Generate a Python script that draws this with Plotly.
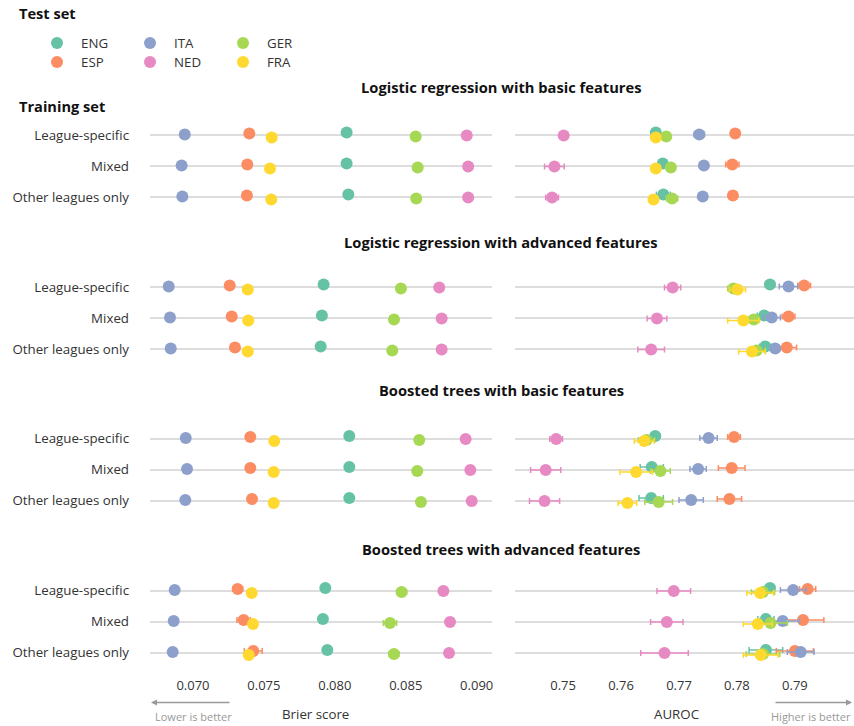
import plotly.graph_objects as go

# ---------------------------------------------------------------- data
COUNTRIES = ["ENG", "ESP", "ITA", "NED", "GER", "FRA"]
COLORS = ["#66c2a5", "#fc8d62", "#8da0cb", "#e78ac3", "#a6d854", "#ffd92f"]
TRAINING = ["League-specific", "Mixed", "Other leagues only"]
MODELS = [
    "Logistic regression with basic features",
    "Logistic regression with advanced features",
    "Boosted trees with basic features",
    "Boosted trees with advanced features",
]

# Brier score, one row per test league (COUNTRIES order), one column per training set
BRIER_LR_BASIC = [
    [0.08083, 0.08083, 0.08095],
    [0.07397, 0.07383, 0.07380],
    [0.06942, 0.06920, 0.06925],
    [0.08930, 0.08940, 0.08940],
    [0.08570, 0.08584, 0.08574],
    [0.07555, 0.07543, 0.07552],
]
BRIER_LR_ADV = [
    [0.07921, 0.07909, 0.07900],
    [0.07259, 0.07273, 0.07296],
    [0.06829, 0.06838, 0.06843],
    [0.08736, 0.08753, 0.08753],
    [0.08466, 0.08417, 0.08405],
    [0.07386, 0.07390, 0.07386],
]
BRIER_BT_BASIC = [
    [0.08102, 0.08102, 0.08102],
    [0.07404, 0.07404, 0.07416],
    [0.06949, 0.06958, 0.06946],
    [0.08922, 0.08955, 0.08965],
    [0.08595, 0.08581, 0.08607],
    [0.07573, 0.07569, 0.07569],
]
BRIER_BT_ADV = [
    [0.07933, 0.07916, 0.07947],
    [0.07315, 0.07357, 0.07425],
    [0.06871, 0.06864, 0.06857],
    [0.08765, 0.08812, 0.08805],
    [0.08471, 0.08389, 0.08417],
    [0.07414, 0.07423, 0.07393],
]

# Brier score 95% CI half-widths
BRIER_ERR_LR_BASIC = [[0.0001] * 3] * 6
BRIER_ERR_LR_ADV = [[0.0001] * 3] * 6
BRIER_ERR_BT_BASIC = [[0.0001] * 3] * 6
BRIER_ERR_BT_ADV = [
    [0.0001, 0.0001, 0.0002],
    [0.00035, 0.00047, 0.00063],
    [0.0001, 0.0001, 0.0001],
    [0.0001, 0.0002, 0.0002],
    [0.00035, 0.00047, 0.00035],
    [0.0001, 0.0001, 0.0001],
]

# AUROC
AUROC_LR_BASIC = [
    [0.7660, 0.7672, 0.7673],
    [0.7797, 0.7792, 0.7793],
    [0.7735, 0.7743, 0.7741],
    [0.7501, 0.7485, 0.7481],
    [0.7678, 0.7686, 0.7688],
    [0.7660, 0.7660, 0.7656],
]
AUROC_LR_ADV = [
    [0.7857, 0.7847, 0.7849],
    [0.7916, 0.7889, 0.7886],
    [0.7889, 0.7860, 0.7866],
    [0.7689, 0.7662, 0.7652],
    [0.7794, 0.7829, 0.7834],
    [0.7801, 0.7811, 0.7826],
]
AUROC_BT_BASIC = [
    [0.7659, 0.7653, 0.7652],
    [0.7795, 0.7791, 0.7787],
    [0.7751, 0.7733, 0.7721],
    [0.7488, 0.7470, 0.7468],
    [0.7644, 0.7668, 0.7665],
    [0.7640, 0.7626, 0.7611],
]
AUROC_BT_ADV = [
    [0.7857, 0.7850, 0.7850],
    [0.7922, 0.7914, 0.7900],
    [0.7897, 0.7879, 0.7910],
    [0.7691, 0.7679, 0.7675],
    [0.7845, 0.7858, 0.7845],
    [0.7840, 0.7836, 0.7841],
]

# AUROC 95% CI half-widths
AUROC_ERR_LR_BASIC = [
    [0.0005, 0.0006, 0.0012],
    [0.0005, 0.00115, 0.0006],
    [0.0009, 0.0005, 0.0006],
    [0.0005, 0.0017, 0.0011],
    [0.0006, 0.0006, 0.0010],
    [0.0005, 0.0005, 0.0005],
]
AUROC_ERR_LR_ADV = [
    [0.0008, 0.0012, 0.0010],
    [0.0011, 0.0011, 0.0017],
    [0.0016, 0.0015, 0.0008],
    [0.0014, 0.0017, 0.0023],
    [0.0010, 0.0010, 0.0015],
    [0.0014, 0.0027, 0.0023],
]
AUROC_ERR_BT_BASIC = [
    [0.0008, 0.0020, 0.0021],
    [0.0011, 0.0023, 0.0021],
    [0.0015, 0.0014, 0.0021],
    [0.0011, 0.0026, 0.0026],
    [0.0014, 0.0017, 0.0024],
    [0.0017, 0.0028, 0.0016],
]
AUROC_ERR_BT_ADV = [
    [0.0008, 0.0014, 0.0029],
    [0.0014, 0.0036, 0.0032],
    [0.0022, 0.0029, 0.0023],
    [0.0029, 0.0028, 0.0041],
    [0.0020, 0.0029, 0.0029],
    [0.0023, 0.0025, 0.0030],
]

BRIER = [BRIER_LR_BASIC, BRIER_LR_ADV, BRIER_BT_BASIC, BRIER_BT_ADV]
BRIER_ERR = [BRIER_ERR_LR_BASIC, BRIER_ERR_LR_ADV, BRIER_ERR_BT_BASIC, BRIER_ERR_BT_ADV]
AUROC = [AUROC_LR_BASIC, AUROC_LR_ADV, AUROC_BT_BASIC, AUROC_BT_ADV]
AUROC_ERR = [AUROC_ERR_LR_BASIC, AUROC_ERR_LR_ADV, AUROC_ERR_BT_BASIC, AUROC_ERR_BT_ADV]

BRIER_TICKS = [0.070, 0.075, 0.080, 0.085, 0.090]
AUROC_TICKS = [0.75, 0.76, 0.77, 0.78, 0.79]

# ---------------------------------------------------------------- layout helpers
W, H = 854, 726
FONT = "Open Sans"
TXT = "#333333"
HEAD = "#111111"


def fx(px):
    return px / W


def fy(px):
    return 1 - px / H


ROW_PX = 31.0                         # vertical distance between training-set rows
PANEL_MID = [166, 318, 469.5, 621.5]  # pixel centre of each model panel
TITLE_Y = [87, 242, 390, 549]
DODGE = 0.033                         # vertical offset between test leagues (row units)

BRIER_DOM = [fx(150), fx(492)]
AUROC_DOM = [fx(515), fx(854)]
BRIER_RANGE = [0.06697, 0.09108]
AUROC_RANGE = [0.7417, 0.8002]

fig = go.Figure()
layout = dict(
    width=W, height=H,
    margin=dict(l=0, r=0, t=0, b=0),
    paper_bgcolor="white", plot_bgcolor="rgba(0,0,0,0)",
    font=dict(family=FONT, color=TXT, size=13),
    showlegend=False,
)

annotations = []

for p in range(4):
    top = PANEL_MID[p] - 1.5 * ROW_PX
    bot = PANEL_MID[p] + 1.5 * ROW_PX
    ydom = [fy(bot), fy(top)]
    last = p == 3
    for c in range(2):
        k = p * 2 + c + 1
        xname = "xaxis" if k == 1 else f"xaxis{k}"
        yname = "yaxis" if k == 1 else f"yaxis{k}"
        xref = "x" if k == 1 else f"x{k}"
        yref = "y" if k == 1 else f"y{k}"
        is_brier = c == 0
        layout[xname] = dict(
            domain=BRIER_DOM if is_brier else AUROC_DOM,
            range=BRIER_RANGE if is_brier else AUROC_RANGE,
            anchor=yref,
            showgrid=False, zeroline=False, showline=False,
            ticks="",
            showticklabels=last,
            tickvals=BRIER_TICKS if is_brier else AUROC_TICKS,
            tickformat=".3f" if is_brier else ".2f",
            ticklabelstandoff=8,
            tickfont=dict(size=13, color=TXT),
        )
        layout[yname] = dict(
            domain=ydom,
            range=[2.5, -0.5],
            anchor=xref,
            tickvals=[0, 1, 2],
            ticktext=TRAINING,
            showticklabels=is_brier,
            ticklabelstandoff=20,
            tickfont=dict(size=13.3, color=TXT),
            showgrid=True, gridcolor="#dddddd", gridwidth=2,
            zeroline=False, showline=False, ticks="",
        )
        vals = BRIER[p] if is_brier else AUROC[p]
        errs = BRIER_ERR[p] if is_brier else AUROC_ERR[p]
        for i, country in enumerate(COUNTRIES):
            ys = [r + (i - 2.5) * DODGE for r in range(3)]
            fig.add_trace(go.Scatter(
                x=vals[i], y=ys, xaxis=xref, yaxis=yref,
                mode="markers", name=country,
                marker=dict(size=12, color=COLORS[i], line=dict(width=0)),
                error_x=dict(type="data", array=errs[i], symmetric=True,
                             color=COLORS[i], thickness=1.5, width=3),
                hovertemplate=f"{country}: %{{x}}<extra></extra>",
            ))
    annotations.append(dict(
        x=fx(501), y=fy(TITLE_Y[p]), xref="paper", yref="paper",
        text=f"<b>{MODELS[p]}</b>", showarrow=False,
        font=dict(size=14.7, color=HEAD), xanchor="center", yanchor="middle",
    ))

# headings
annotations.append(dict(x=fx(17), y=fy(13), xref="paper", yref="paper",
                        text="<b>Test set</b>", showarrow=False,
                        font=dict(size=14.6, color=HEAD),
                        xanchor="left", yanchor="middle"))
annotations.append(dict(x=fx(17), y=fy(106), xref="paper", yref="paper",
                        text="<b>Training set</b>", showarrow=False,
                        font=dict(size=14.6, color=HEAD),
                        xanchor="left", yanchor="middle"))

# legend: two rows, three columns, filled column by column
LEG_X = [57, 150, 243]
LEG_Y = [43, 62]
leg_x, leg_y = [], []
for i, country in enumerate(COUNTRIES):
    col, row = divmod(i, 2)
    leg_x.append(LEG_X[col])
    leg_y.append(LEG_Y[row])
    annotations.append(dict(x=fx(LEG_X[col] + 22), y=fy(LEG_Y[row]),
                            xref="paper", yref="paper", text=country,
                            showarrow=False, font=dict(size=13.3, color=TXT),
                            xanchor="left", yanchor="middle"))
# the legend keys live on their own small axis in the top-left corner (pixel units)
layout["xaxis9"] = dict(domain=[0, fx(330)], range=[0, 330], visible=False, anchor="y9")
layout["yaxis9"] = dict(domain=[fy(80), 1], range=[80, 0], visible=False, anchor="x9")
fig.add_trace(go.Scatter(x=leg_x, y=leg_y, xaxis="x9", yaxis="y9", mode="markers",
                         marker=dict(size=12, color=COLORS), hoverinfo="skip"))

# axis titles and direction hints
annotations.append(dict(x=fx(315), y=fy(714), xref="paper", yref="paper",
                        text="Brier score", showarrow=False,
                        font=dict(size=13.3, color=TXT), xanchor="center", yanchor="middle"))
annotations.append(dict(x=fx(676), y=fy(714), xref="paper", yref="paper",
                        text="AUROC", showarrow=False,
                        font=dict(size=13.3, color=TXT), xanchor="center", yanchor="middle"))
annotations.append(dict(x=fx(193), y=fy(716), xref="paper", yref="paper",
                        text="Lower is better", showarrow=False,
                        font=dict(size=11, color="#999999"), xanchor="center", yanchor="middle"))
annotations.append(dict(x=fx(853), y=fy(716), xref="paper", yref="paper",
                        text="Higher is better", showarrow=False,
                        font=dict(size=11, color="#999999"), xanchor="right", yanchor="middle"))
annotations.append(dict(x=fx(151), y=fy(702.5), xref="paper", yref="paper",
                        ax=80, ay=0, text="", showarrow=True,
                        arrowhead=2, arrowsize=0.8, arrowwidth=1.5, arrowcolor="#999999"))
annotations.append(dict(x=fx(852), y=fy(702.5), xref="paper", yref="paper",
                        ax=-78, ay=0, text="", showarrow=True,
                        arrowhead=2, arrowsize=0.8, arrowwidth=1.5, arrowcolor="#999999"))

layout["annotations"] = annotations
fig.update_layout(**layout)
fig.write_html("out.html")
